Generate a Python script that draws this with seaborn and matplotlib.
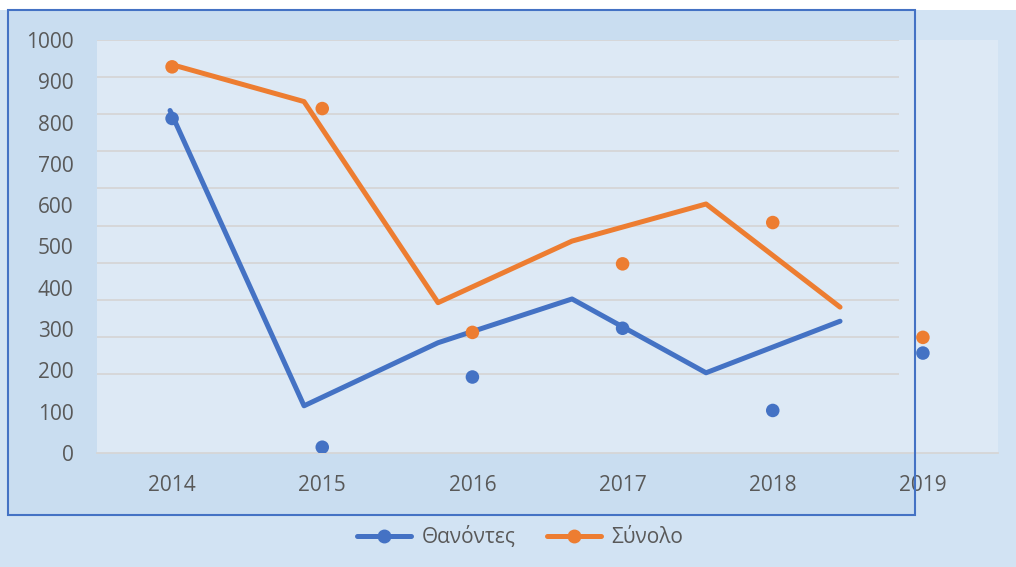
import pandas as pd
import seaborn as sns
import matplotlib.pyplot as plt
from matplotlib.patches import Rectangle
from matplotlib.lines import Line2D

# Data
years = ["2014", "2015", "2016", "2017", "2018", "2019"]
deaths = [810, 14, 184, 302, 103, 242]     # Θανόντες
total = [935, 834, 292, 458, 558, 280]     # Σύνολο
series_names = ["Θανόντες", "Σύνολο"]
colors = ["#4472c4", "#ed7d31"]
y_ticks = list(range(0, 1001, 100))

df = pd.DataFrame({
    "year": years * 2,
    "pos": list(range(len(years))) * 2,
    "value": deaths + total,
    "series": [series_names[0]] * len(years) + [series_names[1]] * len(years),
})
palette = dict(zip(series_names, colors))

sns.set_theme(style="white")
plt.rcParams["font.family"] = ["Open Sans", "DejaVu Sans"]
text_color = "#595959"

W, H = 1016, 567
fig = plt.figure(figsize=(W / 100, H / 100), dpi=100)
fig.patch.set_facecolor("#d2e3f3")

def fx(px):
    return px / W

def fy(py):
    return 1 - py / H

# background pieces
fig.add_artist(Rectangle((0, fy(10)), 1, 10 / H, transform=fig.transFigure,
                         facecolor="white", edgecolor="none", zorder=-5))
fig.add_artist(Rectangle((fx(8), fy(515)), fx(907), 505 / H, transform=fig.transFigure,
                         facecolor="#c9ddf0", edgecolor="none", zorder=-4))

# plot area fill
bg = fig.add_axes([fx(97), fy(453), fx(998 - 97), (453 - 40) / H], zorder=0)
bg.set_facecolor("#dde9f5")
bg.set_xticks([])
bg.set_yticks([])
for s in bg.spines.values():
    s.set_visible(False)

# scaled-down chart holding the lines and gridlines
ax_small = fig.add_axes([fx(97), fy(411), fx(899 - 97), (411 - 40) / H], zorder=1)
ax_small.patch.set_alpha(0)
sns.lineplot(data=df, x="pos", y="value", hue="series", palette=palette,
             linewidth=3.6, legend=False, ax=ax_small)
for ln in ax_small.lines:
    ln.set_solid_joinstyle("round")
    ln.set_solid_capstyle("round")
ax_small.set_xlim(-0.545, 5.44)
ax_small.set_ylim(0, 1000)
for v in y_ticks[1:]:
    ax_small.axhline(v, color="#d6d6d6", lw=1.3, zorder=0)
ax_small.set_xticks([])
ax_small.set_yticks([])
ax_small.set_xlabel("")
ax_small.set_ylabel("")
for s in ax_small.spines.values():
    s.set_visible(False)

# main chart holding the markers and tick labels
ax = fig.add_axes([fx(97), fy(453), fx(998 - 97), (453 - 40) / H], zorder=2)
ax.patch.set_alpha(0)
sns.scatterplot(data=df, x="pos", y="value", hue="series", palette=palette,
                s=95, edgecolor="none", legend=False, ax=ax, zorder=5)
ax.set_xlim(-0.5, 5.5)
ax.set_ylim(0, 1000)
ax.set_xticks(range(len(years)))
ax.set_xticklabels(years)
ax.set_yticks(y_ticks)
ax.tick_params(axis="both", length=0, labelsize=15, colors=text_color)
ax.tick_params(axis="y", pad=17)
ax.tick_params(axis="x", pad=16)
ax.set_xlabel("")
ax.set_ylabel("")
for name, s in ax.spines.items():
    s.set_visible(name == "bottom")
ax.spines["bottom"].set_color("#d6d6d6")
ax.spines["bottom"].set_linewidth(1.3)

# outer blue frame
fig.add_artist(Rectangle((fx(8), fy(515)), fx(907), 505 / H, transform=fig.transFigure,
                         fill=False, edgecolor="#4472c4", lw=1.5, zorder=10))

handles = [Line2D([0], [0], color=c, lw=3.6, marker="o", markersize=9) for c in colors]
fig.legend(handles, series_names, loc="center", bbox_to_anchor=(fx(520), fy(537)),
           ncol=2, frameon=False, fontsize=15, labelcolor=text_color,
           handlelength=2.6, columnspacing=1.5, handletextpad=0.5)

fig.savefig("out.png", dpi=100)
plt.close(fig)
